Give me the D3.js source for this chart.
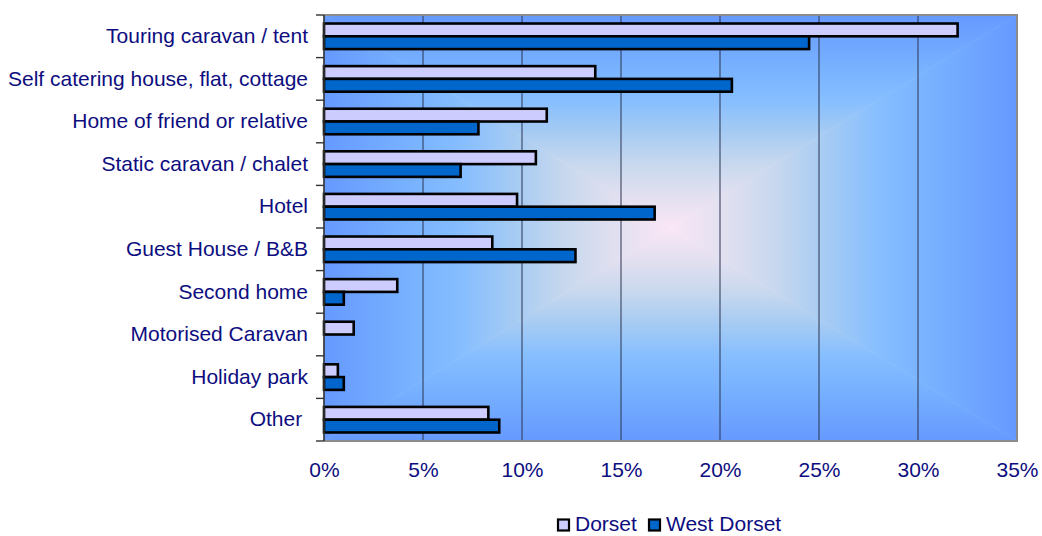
<!DOCTYPE html>
<html>
<head>
<meta charset="utf-8">
<script src="https://cdn.jsdelivr.net/npm/d3@7"></script>
<style>
  html, body { margin: 0; padding: 0; background: #ffffff; }
  svg { display: block; }
  text { font-family: "Liberation Sans", Arial, Helvetica, sans-serif; }
</style>
</head>
<body>
<svg id="chart" width="1042" height="536"></svg>
<script>
// Accommodation type used by visitors (share of trips)
const categories = [
  "Touring caravan / tent",
  "Self catering house, flat, cottage",
  "Home of friend or relative",
  "Static caravan / chalet",
  "Hotel",
  "Guest House / B&B",
  "Second home",
  "Motorised Caravan",
  "Holiday park",
  "Other "
];
const seriesNames = ["Dorset", "West Dorset"];
const dorset     = [0.320, 0.137, 0.1125, 0.107, 0.0975, 0.085, 0.037, 0.015, 0.007, 0.083];
const westDorset = [0.245, 0.206, 0.078, 0.069, 0.167, 0.127, 0.010, 0.000, 0.010, 0.0885];
const xTicks = [0, 0.05, 0.10, 0.15, 0.20, 0.25, 0.30, 0.35];
const seriesColors = ["#CCCCFF", "#0066CC"];

const svg = d3.select("#chart");
const plot = { left: 324, right: 1017, top: 15, bottom: 441 };
const W = plot.right - plot.left, H = plot.bottom - plot.top;
const FONT = 21;
const TEXT = "#0d0d80";

const x = d3.scaleLinear().domain([0, 0.35]).range([plot.left, plot.right]);
const y = d3.scaleBand().domain(categories).range([plot.top, plot.bottom]).padding(0);
const ySub = d3.scaleBand().domain(seriesNames)
  .range([y.bandwidth() * 0.2, y.bandwidth() * 0.8]).padding(0);

// Plot background: rectangular gradient radiating from the centre of the plot area
const defs = svg.append("defs");
const cx = plot.left + W / 2, cy = plot.top + H / 2;
const stops = [
  [0, "#FAE6F6"], [0.15, "#E2E0F0"], [0.30, "#C8D8EE"], [0.45, "#A6CBF3"],
  [0.60, "#86BEFF"], [0.75, "#78B2FF"], [1, "#6699FF"]
];
const tris = [
  { id: "gT", pts: [[cx, cy], [plot.left, plot.top], [plot.right, plot.top]], to: [cx, plot.top] },
  { id: "gB", pts: [[cx, cy], [plot.left, plot.bottom], [plot.right, plot.bottom]], to: [cx, plot.bottom] },
  { id: "gL", pts: [[cx, cy], [plot.left, plot.top], [plot.left, plot.bottom]], to: [plot.left, cy] },
  { id: "gR", pts: [[cx, cy], [plot.right, plot.top], [plot.right, plot.bottom]], to: [plot.right, cy] }
];
tris.forEach(t => {
  const g = defs.append("linearGradient").attr("id", t.id)
    .attr("gradientUnits", "userSpaceOnUse")
    .attr("x1", cx).attr("y1", cy).attr("x2", t.to[0]).attr("y2", t.to[1]);
  stops.forEach(s => g.append("stop").attr("offset", s[0]).attr("stop-color", s[1]));
  svg.append("path")
    .attr("d", "M" + t.pts.map(p => p.join(",")).join("L") + "Z")
    .attr("fill", `url(#${t.id})`)
    .attr("stroke", `url(#${t.id})`)
    .attr("stroke-width", 0.6);
});

// Vertical gridlines
svg.append("g").selectAll("line")
  .data(xTicks.slice(1, -1))
  .join("line")
  .attr("x1", d => x(d)).attr("x2", d => x(d))
  .attr("y1", plot.top).attr("y2", plot.bottom)
  .attr("stroke", "#2b3550").attr("stroke-width", 1);

// Plot frame (top, right, bottom)
svg.append("path")
  .attr("d", `M${plot.left},${plot.top}H${plot.right}V${plot.bottom}H${plot.left}`)
  .attr("fill", "none").attr("stroke", "#8c8c8c").attr("stroke-width", 2);

// Bars
const series = [dorset, westDorset];
const barGroup = svg.append("g");
series.forEach((vals, si) => {
  barGroup.selectAll(null)
    .data(vals.map((v, i) => ({ v, c: categories[i] })))
    .join("rect")
    .filter(d => d.v > 0)
    .attr("x", x(0))
    .attr("y", d => y(d.c) + ySub(seriesNames[si]))
    .attr("width", d => x(d.v) - x(0))
    .attr("height", ySub.bandwidth())
    .attr("fill", seriesColors[si])
    .attr("stroke", "#000")
    .attr("stroke-width", 2.6);
});

// Category axis
const yAxis = d3.axisLeft(y).tickSize(0).tickPadding(16);
const yg = svg.append("g").attr("transform", `translate(${plot.left},0)`).call(yAxis);
yg.select(".domain").remove();
yg.selectAll("text")
  .attr("fill", TEXT).attr("font-size", FONT)
  .style("white-space", "pre");
svg.append("line")
  .attr("x1", plot.left).attr("x2", plot.left)
  .attr("y1", plot.top).attr("y2", plot.bottom)
  .attr("stroke", "#333").attr("stroke-width", 1.6);
const boundaries = categories.map(c => y(c)).concat([plot.bottom]);
svg.append("g").selectAll("line")
  .data(boundaries).join("line")
  .attr("x1", plot.left - 8).attr("x2", plot.left)
  .attr("y1", d => d).attr("y2", d => d)
  .attr("stroke", "#333").attr("stroke-width", 1.4);

// Value axis
const xAxis = d3.axisBottom(x).tickValues(xTicks).tickFormat(d3.format(".0%")).tickSize(0).tickPadding(21);
const xg = svg.append("g").attr("transform", `translate(0,${plot.bottom})`).call(xAxis);
xg.select(".domain").remove();
xg.selectAll("text").attr("fill", TEXT).attr("font-size", FONT);

// Legend
const legendX = [557, 648];
const legend = svg.append("g");
seriesNames.forEach((name, i) => {
  legend.append("rect")
    .attr("x", legendX[i] + 1).attr("y", 519.5)
    .attr("width", 11).attr("height", 11)
    .attr("fill", seriesColors[i]).attr("stroke", "#000").attr("stroke-width", 2.2);
  legend.append("text")
    .attr("x", legendX[i] + 18).attr("y", 531.3)
    .attr("fill", TEXT).attr("font-size", FONT)
    .text(name);
});
</script>
</body>
</html>
